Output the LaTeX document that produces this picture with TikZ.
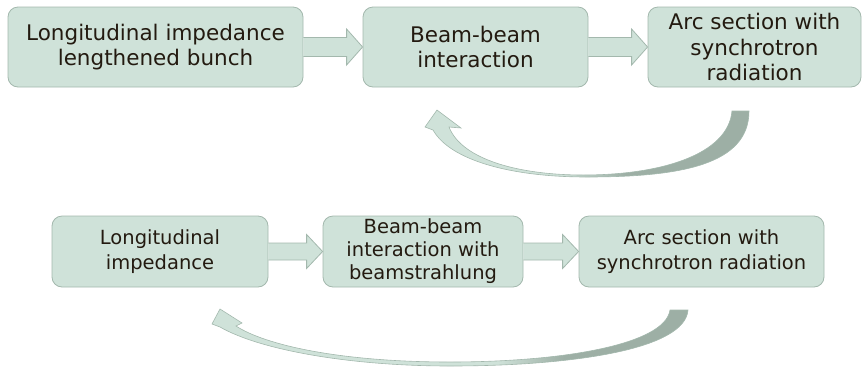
\documentclass[tikz,border=0pt]{standalone}
\usepackage{fontspec}
\setmainfont{DejaVu Sans}
\usetikzlibrary{calc}
\definecolor{boxfill}{HTML}{CFE2D9}
\definecolor{boxline}{HTML}{A3B8AD}
\definecolor{txt}{HTML}{231A10}
\definecolor{arcdark}{HTML}{9DAFA5}
\pgfdeclarehorizontalshading{arcshadeA}{100bp}{color(0bp)=(boxfill); color(46bp)=(boxfill); color(56bp)=(arcdark); color(100bp)=(arcdark)}
\pgfdeclarehorizontalshading{arcshadeB}{100bp}{color(0bp)=(boxfill); color(55bp)=(boxfill); color(62bp)=(arcdark); color(100bp)=(arcdark)}
\newcommand{\blockarr}[5]{%
  \path let \p1=(#1.east), \p2=(#2.west) in
    [fill=boxfill] (\x1,{\y1+#3}) -- ({\x2-#5},{\y1+#3}) -- ({\x2-#5},{\y1+#4}) -- (\x2,\y1)
      -- ({\x2-#5},{\y1-#4}) -- ({\x2-#5},{\y1-#3}) -- (\x1,{\y1-#3}) -- cycle;
  \path let \p1=(#1.east), \p2=(#2.west) in
    [draw=boxline, line width=0.8pt, line join=miter] (\x1,{\y1+#3}) -- ({\x2-#5},{\y1+#3}) -- ({\x2-#5},{\y1+#4}) -- (\x2,\y1)
      -- ({\x2-#5},{\y1-#4}) -- ({\x2-#5},{\y1-#3}) -- (\x1,{\y1-#3});
}
\begin{document}
\begin{tikzpicture}[x=1pt,y=-1pt,
  box/.style={draw=boxline, line width=0.8pt, fill=boxfill, rounded corners=10pt, text=txt, align=center, inner sep=0pt},
  toprow/.style={box, minimum height=80pt, font=\fontsize{21.5}{25.5}\selectfont},
  botrow/.style={box, minimum height=71pt, font=\fontsize{19.5}{25}\selectfont},
  curvarrow/.style={draw=boxline, line width=0.6pt, line join=miter}]
\useasboundingbox (0,0) rectangle (863,368);

\node[toprow, minimum width=295pt] (b1) at (155.5,47) {Longitudinal impedance\\lengthened bunch};
\node[toprow, minimum width=225pt] (b2) at (475.5,47) {Beam-beam\\interaction};
\node[toprow, minimum width=213pt] (b3) at (754.5,47) {Arc section with\\synchrotron\\radiation};

\node[botrow, minimum width=216pt] (b4) at (160,251.5) {Longitudinal\\impedance};
\node[botrow, minimum width=200pt, font=\fontsize{19.5}{23}\selectfont] (b5) at (423,251.5) {Beam-beam\\interaction with\\beamstrahlung};
\node[botrow, minimum width=245pt] (b6) at (701.5,251.5) {Arc section with\\synchrotron radiation};

\blockarr{b1}{b2}{9.5pt}{18pt}{16pt}
\blockarr{b2}{b3}{9.5pt}{18pt}{16pt}
\blockarr{b4}{b5}{8.5pt}{17pt}{16pt}
\blockarr{b5}{b6}{8.5pt}{17pt}{16pt}

\path[curvarrow, shading=arcshadeA]
  (732,111) -- (749,111) .. controls (749,165) and (680,177) .. (587,177)
  .. controls (510,177) and (450,160) .. (433,130) -- (425,127) -- (437,110) -- (461,128) -- (449,127)
  .. controls (462,160) and (520,175) .. (583,175) .. controls (660,175) and (728,155) .. (732,111) -- cycle;

\path[curvarrow, shading=arcshadeB]
  (670,310) -- (688,310) .. controls (685,350) and (570,366) .. (450,366)
  .. controls (350,366) and (260,350) .. (220,327) -- (212,324) -- (220,309) -- (242,323) -- (236,326)
  .. controls (265,345) and (340,362) .. (450,362) .. controls (560,362) and (665,345) .. (670,310) -- cycle;
\end{tikzpicture}
\end{document}
